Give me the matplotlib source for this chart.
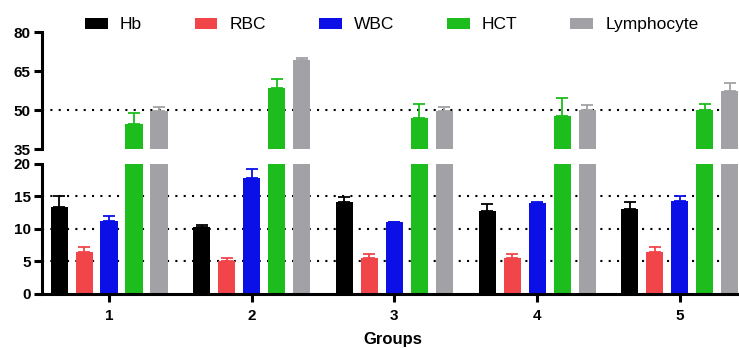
import numpy as np
import matplotlib.pyplot as plt

plt.rcParams['font.family'] = ['Liberation Sans', 'DejaVu Sans']

groups = ['1', '2', '3', '4', '5']
series = ['Hb', 'RBC', 'WBC', 'HCT', 'Lymphocyte']
hb = [13.4, 10.3, 14.1, 12.8, 13.1]
hb_err = [1.7, 0.3, 0.8, 1.0, 1.1]
rbc = [6.5, 5.1, 5.6, 5.5, 6.4]
rbc_err = [0.8, 0.5, 0.6, 0.7, 0.8]
wbc = [11.2, 17.9, 11.0, 14.0, 14.3]
wbc_err = [0.8, 1.4, 0.1, 0.2, 0.8]
hct = [44.6, 58.5, 46.9, 47.7, 50.0]
hct_err = [4.1, 3.5, 5.4, 7.0, 2.2]
lym = [49.7, 69.2, 49.6, 50.0, 57.4]
lym_err = [1.6, 0.7, 1.5, 1.9, 2.9]

colors = ['#000000', '#f2454a', '#0a10e6', '#1cbd1c', '#a2a2a6']
vals = [hb, rbc, wbc, hct, lym]
errs = [hb_err, rbc_err, wbc_err, hct_err, lym_err]

fig = plt.figure(figsize=(7.39, 3.49), dpi=100)
ax_top = fig.add_axes([0.0568, 0.573, 0.95, 0.335])
ax_bot = fig.add_axes([0.0568, 0.1576, 0.95, 0.3725])

x = np.arange(1, len(groups) + 1)
step = 0.175
width = 0.12

for ax in (ax_top, ax_bot):
    for i, (v, e, c, name) in enumerate(zip(vals, errs, colors, series)):
        pos = x + (i - 2) * step
        ax.bar(pos, v, width, color=c, label=name, zorder=2)
        ax.errorbar(pos, v, yerr=[np.zeros(len(e)), e], fmt='none',
                    ecolor=c, elinewidth=1.3, capsize=4, capthick=1.3, zorder=1.5)
    ax.set_xlim(0.53, 5.45)
    for s in ('top', 'right'):
        ax.spines[s].set_visible(False)
    ax.spines['left'].set_linewidth(2.2)
    ax.tick_params(axis='y', width=2.2, length=6, labelsize=11, pad=2)

ax_top.set_ylim(35, 80)
ax_top.set_yticks([35, 50, 65, 80])
ax_top.spines['bottom'].set_visible(False)
ax_top.set_xticks([])
ax_top.axhline(50, color='black', ls=(0, (1, 3)), lw=1.5, zorder=0)

ax_bot.set_ylim(0, 20)
ax_bot.set_yticks([0, 5, 10, 15, 20])
ax_bot.spines['bottom'].set_linewidth(2.2)
ax_bot.set_xticks(x)
ax_bot.set_xticklabels(groups, fontweight='bold', fontsize=11)
ax_bot.tick_params(axis='x', width=2.2, length=6, pad=5)
for yv in [5, 10, 15]:
    ax_bot.axhline(yv, color='black', ls=(0, (1, 3)), lw=1.5, zorder=0)
ax_bot.set_xlabel('Groups', fontweight='bold', fontsize=12, labelpad=6)
for lab in ax_bot.get_yticklabels() + ax_top.get_yticklabels():
    lab.set_fontweight('bold')

h, l = ax_bot.get_legend_handles_labels()
fig.legend(h, l, loc='upper left', bbox_to_anchor=(0.094, 0.995), ncol=5,
           frameon=False, fontsize=12.5, handlelength=1.3, handleheight=0.6,
           handletextpad=0.7, columnspacing=3.05)

fig.savefig('out.png', dpi=100)
